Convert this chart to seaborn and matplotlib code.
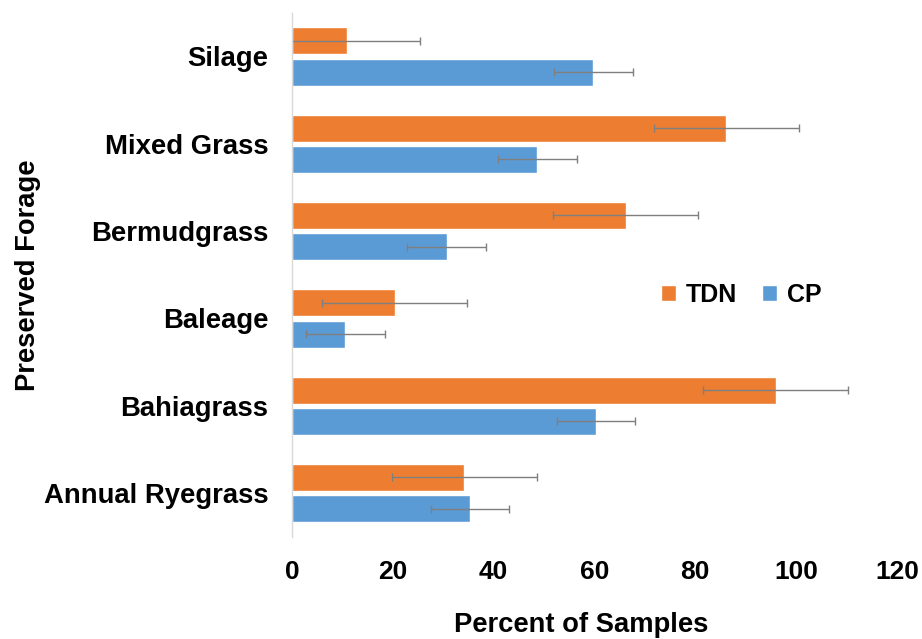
import pandas as pd
import seaborn as sns
import matplotlib.pyplot as plt

# === 1. Datos ===
forages = ["Silage", "Mixed Grass", "Bermudgrass", "Baleage", "Bahiagrass", "Annual Ryegrass"]
tdn = [11.0, 86.2, 66.2, 20.4, 96.0, 34.2]
cp = [59.8, 48.7, 30.7, 10.6, 60.3, 35.3]
tdn_err = [14.4, 14.4, 14.4, 14.4, 14.4, 14.4]
cp_err = [7.8, 7.8, 7.8, 7.8, 7.8, 7.8]

series = ["TDN", "CP"]
colors = {"TDN": "#ED7D31", "CP": "#5B9BD5"}

df = pd.DataFrame({
    "forage": forages * 2,
    "nutrient": ["TDN"] * len(forages) + ["CP"] * len(forages),
    "value": tdn + cp,
})

# === 2. Estilo ===
sns.set_theme(style="white")
plt.rcParams["font.family"] = ["Liberation Sans", "DejaVu Sans"]
plt.rcParams["font.weight"] = "bold"
plt.rcParams["text.color"] = "black"
plt.rcParams["axes.labelcolor"] = "black"
plt.rcParams["xtick.color"] = "black"
plt.rcParams["ytick.color"] = "black"

fig = plt.figure(figsize=(9.22, 6.39), dpi=100)
ax = fig.add_axes([0.3167, 0.160, 0.656, 0.820])

sns.barplot(data=df, x="value", y="forage", hue="nutrient", order=forages,
            hue_order=series, palette=colors, orient="h", width=0.72, gap=0.14,
            saturation=1, errorbar=None, ax=ax, legend=True)

# === 3. Barras de error ===
for container, errs in zip(ax.containers, [tdn_err, cp_err]):
    xs = [b.get_width() for b in container]
    ys = [b.get_y() + b.get_height() / 2 for b in container]
    ax.errorbar(xs, ys, xerr=errs, fmt="none", ecolor="#7f7f7f",
                elinewidth=1, capsize=3, capthick=1)

ax.set_xlim(0, 120)
ax.set_xticks(range(0, 121, 20))
ax.set_ylim(5.5, -0.5)

for side in ["top", "right", "bottom"]:
    ax.spines[side].set_visible(False)
ax.spines["left"].set_color("#d9d9d9")
ax.spines["left"].set_linewidth(1)

ax.tick_params(axis="x", length=0, pad=17, labelsize=19, labelcolor="black")
ax.tick_params(axis="y", length=0, pad=17, labelsize=19.8, labelcolor="black")
for lbl in ax.get_xticklabels() + ax.get_yticklabels():
    lbl.set_fontweight("bold")

ax.set_xlabel("Percent of Samples", fontsize=19.7, fontweight="bold")
ax.xaxis.set_label_coords(0.478, -0.143)
ax.set_ylabel("Preserved Forage", fontsize=19.7, fontweight="bold", labelpad=2)

# === 4. Leyenda ===
ax.legend(loc="center", bbox_to_anchor=(0.804, 0.538), bbox_transform=fig.transFigure,
          ncol=2, frameon=False, handlelength=0.6, handleheight=0.6,
          handletextpad=0.4, columnspacing=1.0,
          prop={"size": 18, "weight": "bold"})

plt.savefig("out.png", dpi=100)
plt.close()
